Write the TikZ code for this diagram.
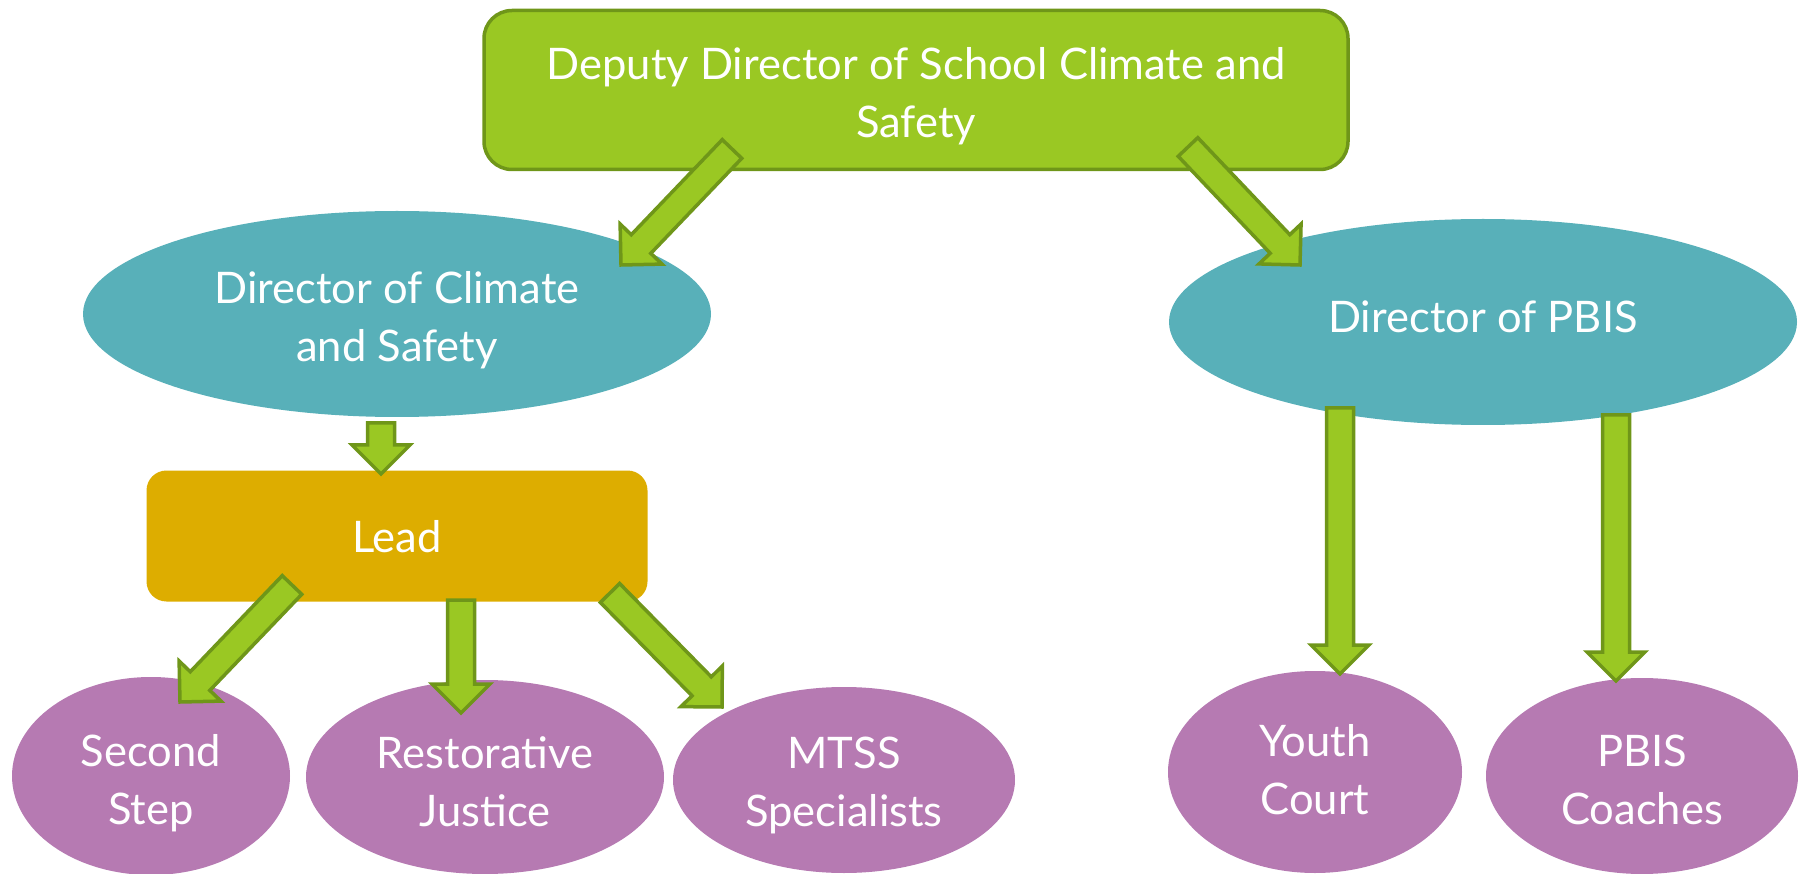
\documentclass[tikz,border=0pt]{standalone}
\usepackage{fontspec}
\setmainfont{Lato}
\usetikzlibrary{shapes.geometric,calc}
\definecolor{lime}{RGB}{154,200,35}
\definecolor{limedark}{RGB}{111,150,25}
\definecolor{tealc}{RGB}{88,176,185}
\definecolor{goldc}{RGB}{221,173,0}
\definecolor{purplec}{RGB}{182,122,178}
\tikzset{
  txt/.style={text=white,align=center,font=\fontsize{43.5}{58}\selectfont,inner sep=0pt},
  topbox/.style={draw=limedark,line width=3.5pt,fill=lime,rounded corners=28pt,minimum width=864pt,minimum height=159pt},
  leadbox/.style={fill=goldc,rounded corners=20pt,minimum width=501pt,minimum height=131pt},
  tealell/.style={ellipse,fill=tealc,minimum width=628pt,minimum height=206pt},
  purpell/.style={ellipse,fill=purplec},
  barrow/.style={draw=limedark,fill=lime,line width=3.5pt,line join=miter},
}
\newcommand\blockarr[2]{%
  \coordinate (hb) at ($(#2)!29pt!(#1)$);
  \draw[barrow] ($(#1)!13.5pt!90:(#2)$) -- ($(hb)!13.5pt!-90:(#1)$) -- ($(hb)!29pt!-90:(#1)$)
    -- (#2) -- ($(hb)!29pt!90:(#1)$) -- ($(hb)!13.5pt!90:(#1)$) -- ($(#1)!13.5pt!-90:(#2)$) -- cycle;}
\begin{document}
\begin{tikzpicture}[x=1pt,y=-1pt]
\useasboundingbox (0,0) rectangle (1805,874);
\node[topbox,label={[txt,yshift=-6pt]center:{Deputy Director of School Climate and\\Safety}}] (dep) at (916,90) {};
\node[tealell,label={[txt,yshift=-6pt]center:{Director of Climate\\and Safety}}] (dcs) at (397,314) {};
\node[tealell,label={[txt,yshift=5pt]center:{Director of PBIS}}] (dpb) at (1483,322) {};
\node[leadbox,label={[txt,yshift=-1pt]center:{Lead}}] (lead) at (397,536) {};
\node[purpell,minimum width=278pt,minimum height=198pt,label={[txt,yshift=-7pt]center:{Second\\Step}}] (ss) at (151,776) {};
\node[purpell,minimum width=358pt,minimum height=194pt,label={[txt,yshift=-5pt]center:{Restorative\\Justice}}] (rj) at (485,777) {};
\node[purpell,minimum width=342pt,minimum height=186pt,label={[txt,yshift=-5pt]center:{MTSS\\Specialists}}] (mtss) at (844,780) {};
\node[purpell,minimum width=294pt,minimum height=202pt,label={[txt,yshift=2pt]center:{Youth\\Court}}] (yc) at (1315,772) {};
\node[purpell,minimum width=312pt,minimum height=196pt,label={[txt,yshift=-4pt]center:{PBIS\\Coaches}}] (pc) at (1642,776) {};
% arrow end points
\coordinate (a1t) at (732,149); \coordinate (a1h) at (621,265);
\coordinate (a2t) at (1188,147); \coordinate (a2h) at (1300,265);
\coordinate (a3t) at (381,423); \coordinate (a3h) at (381,474);
\coordinate (a4t) at (292,585); \coordinate (a4h) at (180,702);
\coordinate (a5t) at (461,600); \coordinate (a5h) at (461,713);
\coordinate (a6t) at (610,593); \coordinate (a6h) at (722,707);
\coordinate (a7t) at (1340,408); \coordinate (a7h) at (1340,674);
\coordinate (a8t) at (1616,415); \coordinate (a8h) at (1616,681);
\blockarr{a1t}{a1h}
\blockarr{a2t}{a2h}
\blockarr{a3t}{a3h}
\blockarr{a4t}{a4h}
\blockarr{a5t}{a5h}
\blockarr{a6t}{a6h}
\blockarr{a7t}{a7h}
\blockarr{a8t}{a8h}
\end{tikzpicture}
\end{document}
